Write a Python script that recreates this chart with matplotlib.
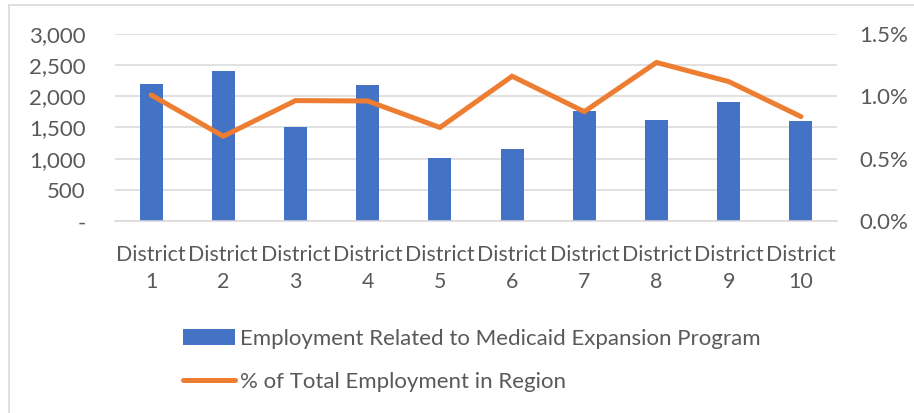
import matplotlib
matplotlib.use('Agg')
import matplotlib.pyplot as plt
from matplotlib.ticker import FuncFormatter, MultipleLocator
from matplotlib.patches import Rectangle

districts = ['District\n1', 'District\n2', 'District\n3', 'District\n4', 'District\n5',
             'District\n6', 'District\n7', 'District\n8', 'District\n9', 'District\n10']
employment = [2200, 2400, 1500, 2180, 1010, 1160, 1770, 1620, 1900, 1600]
pct_total = [1.01, 0.68, 0.965, 0.962, 0.75, 1.16, 0.877, 1.27, 1.117, 0.837]

BAR_LABEL = 'Employment Related to Medicaid Expansion Program'
LINE_LABEL = '% of Total Employment in Region'

BLUE = '#4472C4'
ORANGE = '#ED7D31'
GRID = '#D9D9D9'
TEXT = '#595959'


def main():
    plt.rcParams['font.family'] = ['Lato', 'DejaVu Sans']
    plt.rcParams['font.size'] = 16

    fig = plt.figure(figsize=(9.14, 4.13), dpi=100)
    fig.patches.append(Rectangle((9 / 914, -0.1), 1.2, 1 - 5 / 413 + 0.1, transform=fig.transFigure,
                                 fill=False, edgecolor=GRID, linewidth=1.2))
    ax = fig.add_axes([0.1258, 0.4642, 0.79, 0.4542])
    ax2 = ax.twinx()

    x = list(range(len(districts)))
    bars = ax.bar(x, employment, width=0.32, color=BLUE, zorder=2, label=BAR_LABEL)
    line, = ax2.plot(x, pct_total, color=ORANGE, linewidth=3.6, solid_capstyle='round',
                     solid_joinstyle='miter', label=LINE_LABEL)

    ax.set_xlim(-0.5, len(districts) - 0.5)
    ax.set_ylim(0, 3000)
    ax.yaxis.set_major_locator(MultipleLocator(500))
    ax.yaxis.set_major_formatter(FuncFormatter(lambda v, p: '-' if v == 0 else f'{v:,.0f}'))
    ax2.set_ylim(0, 1.5)
    ax2.yaxis.set_major_locator(MultipleLocator(0.5))
    ax2.yaxis.set_major_formatter(FuncFormatter(lambda v, p: f'{v:.1f}%'))

    ax.set_xticks(x)
    ax.set_xticklabels(districts, linespacing=1.45, fontsize=15.4)
    ax.grid(axis='y', color=GRID, linewidth=1.1, zorder=0)
    ax.set_axisbelow(True)

    for a in (ax, ax2):
        for s in a.spines.values():
            s.set_visible(False)
    ax.spines['bottom'].set_visible(True)
    ax.spines['bottom'].set_color(GRID)
    ax.spines['bottom'].set_linewidth(1.1)

    ax.tick_params(axis='y', length=0, pad=21, colors=TEXT)
    ax.tick_params(axis='x', length=0, pad=17, colors=TEXT)
    ax2.tick_params(axis='y', length=0, pad=16, colors=TEXT)

    fig.legend([bars, line], [BAR_LABEL, LINE_LABEL], loc='upper left',
               bbox_to_anchor=(163 / 914, 1 - 309 / 413), frameon=False,
               handlelength=2.35, handletextpad=0.2, labelspacing=1.03,
               labelcolor=TEXT, fontsize=16)

    fig.savefig('out.png', dpi=100)
    plt.close(fig)


if __name__ == '__main__':
    main()
